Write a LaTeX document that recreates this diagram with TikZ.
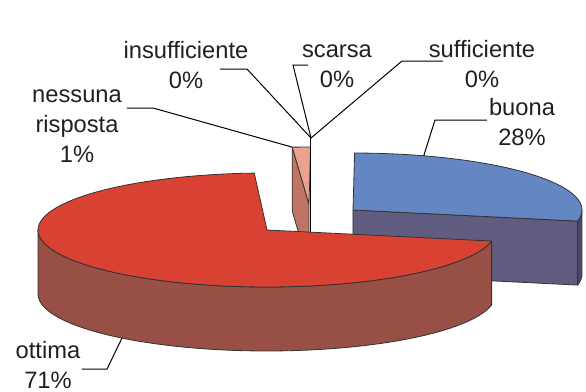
\documentclass[tikz,border=0pt]{standalone}
\usepackage{fontspec}
\setmainfont{Liberation Sans}
\usetikzlibrary{calc}

\definecolor{topblue}{RGB}{100,134,194}
\definecolor{sideblue}{RGB}{96,92,128}
\definecolor{topred}{RGB}{217,66,50}
\definecolor{sidered}{RGB}{152,80,70}
\definecolor{toppink}{RGB}{234,162,142}
\definecolor{sidepink}{RGB}{192,116,100}
\definecolor{txt}{RGB}{35,31,32}

\begin{document}
\begin{tikzpicture}[x=0.5pt, y=-0.5pt, face/.style = {draw=black!80, line width=0.4pt, line join=round}, leader/.style = {draw=black, line width=0.5pt}, lbl/.style = {align=center, text=txt, font=\fontsize{11.85}{15}\selectfont, inner sep=0pt, anchor=base}]

    \useasboundingbox (0,0) rectangle (586,392);

    % slice centres
    \coordinate (pk) at (309,204);
    \coordinate (bl) at (353,210);
    \coordinate (rd) at (267,230);

    % nessuna risposta, pushed to the back
    \coordinate (pka) at ({309+229*cos(89.6)},{204-57*sin(89.6)});
    \coordinate (pkb) at ({309+229*cos(94.2)},{204-57*sin(94.2)});
    \filldraw[face, fill=sidepink] (pkb) -- (pk) -- ++(0,64) -- ($(pkb)+(0,64)$) -- cycle;
    \filldraw[face, fill=toppink] (pk) -- (pka) -- (pkb) -- cycle;

    % buona
    \coordinate (bla) at ({353+229*cos(-11.2)},{210-57*sin(-11.2)});
    \filldraw[face, fill=sideblue] (bl) -- (bla) -- ++(0,64) -- ($(bl)+(0,64)$) -- cycle;
    \filldraw[face, fill=sideblue!80!black] plot[domain=-11.2:0, samples=8] ({353+229*cos(\x)},{210-57*sin(\x)}) -- plot[domain=0:-11.2, samples=8] ({353+229*cos(\x)},{274-57*sin(\x)}) -- cycle;
    \filldraw[face, fill=topblue] (bl) -- plot[domain=-11.2:89.6, samples=40] ({353+229*cos(\x)},{210-57*sin(\x)}) -- cycle;

    % ottima
    \filldraw[face, fill=sidered] plot[domain=180:348.8, samples=60] ({267+229*cos(\x)},{230-57*sin(\x)}) -- plot[domain=348.8:180, samples=60] ({267+229*cos(\x)},{294-57*sin(\x)}) -- cycle;
    \filldraw[face, fill=topred] (rd) -- plot[domain=93.2:348.8, samples=90] ({267+229*cos(\x)},{230-57*sin(\x)}) -- cycle;

    % labels (placed by the baseline of their last line)
    \node[lbl] (insuf) at (186,88) {insufficiente\\0\%};
    \node[lbl] (scarsa) at (337,87) {scarsa\\0\%};
    \node[lbl] (suff) at (482,87) {sufficiente\\0\%};
    \node[lbl] (nessuna) at (77,162) {nessuna\\risposta\\1\%};
    \node[lbl] (buona) at (522,145) {buona\\28\%};
    \node[lbl] (ottima) at (48,388) {ottima\\71\%};

    % leader lines
    \coordinate (zero) at (311,138);
    \coordinate (zerofoot) at (311,232);
    \coordinate (insufa) at (220,69);
    \coordinate (insufb) at (247,69);
    \coordinate (scarsaa) at (308,65);
    \coordinate (scarsab) at (293,65);
    \coordinate (suffa) at (443,61);
    \coordinate (suffb) at (402,61);
    \coordinate (nessunaa) at (127,108);
    \coordinate (nessunab) at (153,108);
    \coordinate (buonaa) at (487,120);
    \coordinate (buonab) at (435,120);
    \coordinate (buonac) at ({353+229*cos(72)},{210-57*sin(72)});
    \coordinate (ottimaa) at (82,369);
    \coordinate (ottimab) at (107,369);
    \coordinate (ottimac) at ({267+229*cos(-129.3)},{294-57*sin(-129.3)});

    \draw[leader] (insufa) -- (insufb) -- (zero);
    \draw[leader] (scarsaa) -- (scarsab) -- (zero);
    \draw[leader] (suffa) -- (suffb) -- (zero);
    \draw[leader] (zero) -- (zerofoot);
    \draw[leader] (nessunaa) -- (nessunab) -- (pkb);
    \draw[leader] (buonaa) -- (buonab) -- (buonac);
    \draw[leader] (ottimaa) -- (ottimab) -- (ottimac);

\end{tikzpicture}
\end{document}
